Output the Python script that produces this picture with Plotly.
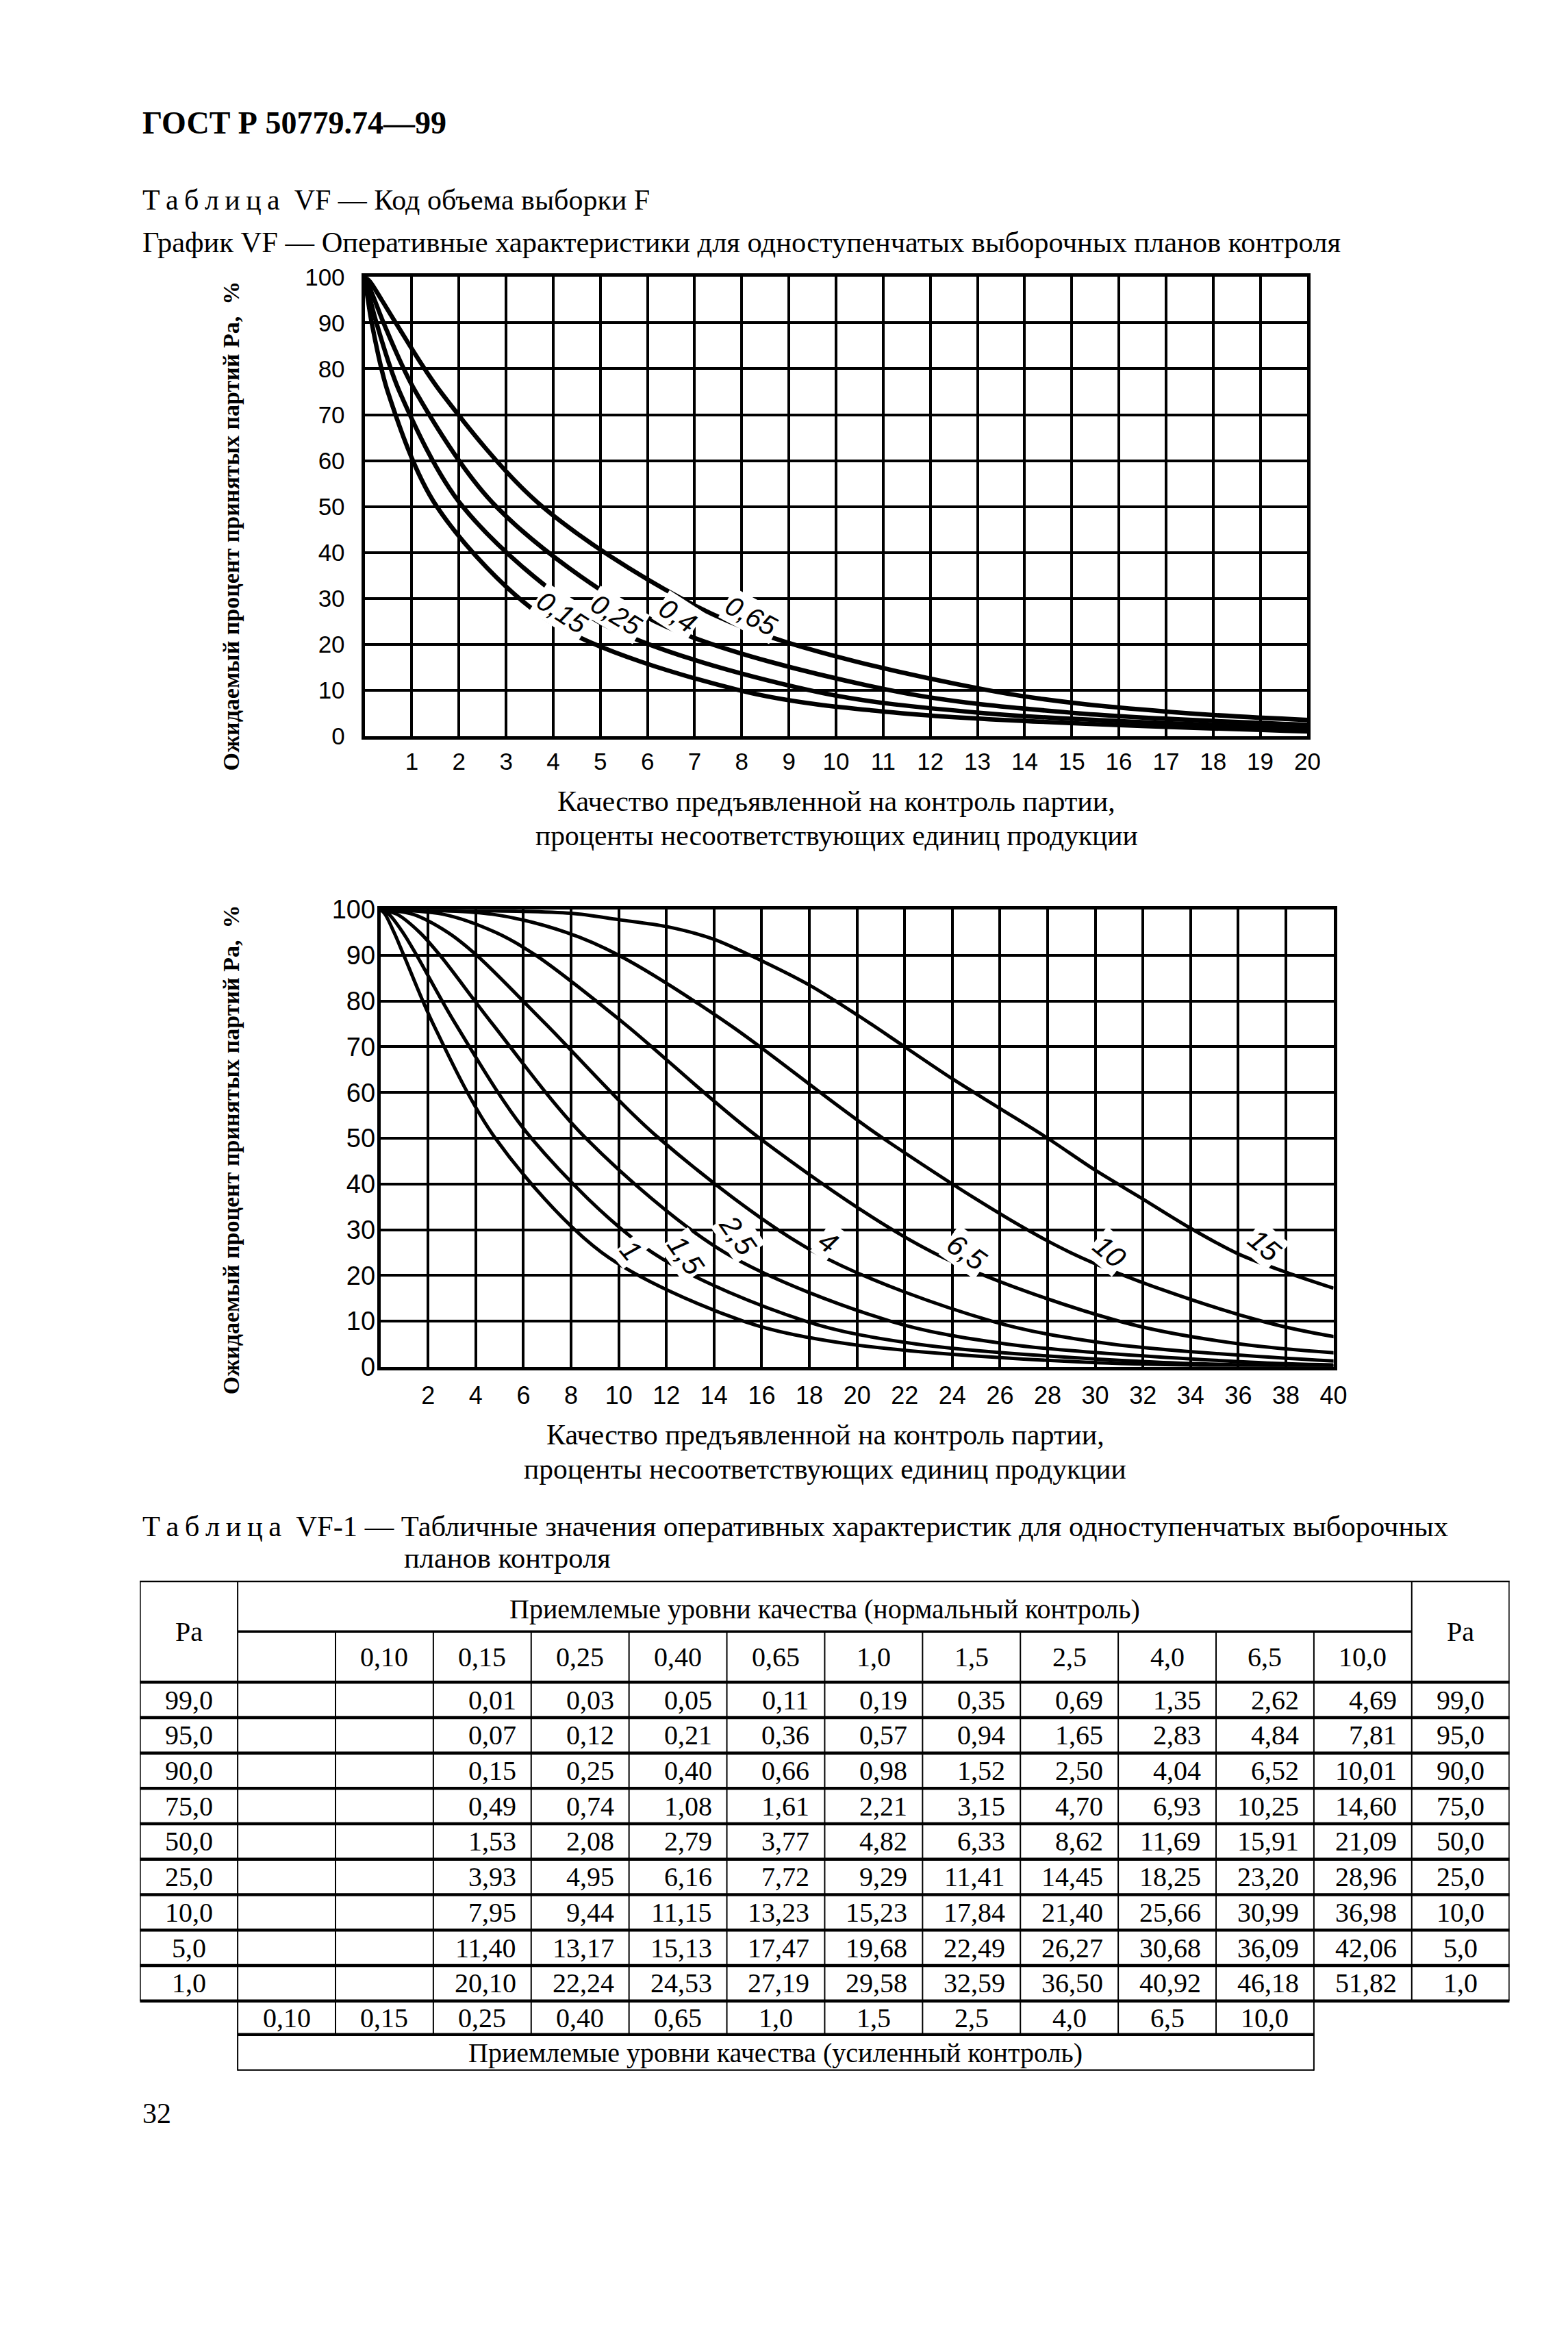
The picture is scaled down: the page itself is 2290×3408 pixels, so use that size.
import plotly.graph_objects as go

W, H = 2290, 3408

# ------------------------------------------------------------------ data
PA_LEVELS = [99.0, 95.0, 90.0, 75.0, 50.0, 25.0, 10.0, 5.0, 1.0]

AQL_NORMAL = ["", "0,10", "0,15", "0,25", "0,40", "0,65", "1,0", "1,5", "2,5", "4,0", "6,5", "10,0"]
AQL_TIGHTENED = ["0,10", "0,15", "0,25", "0,40", "0,65", "1,0", "1,5", "2,5", "4,0", "6,5", "10,0"]

# process quality (percent nonconforming) at each Pa level, per normal AQL column
P_015 = [0.01, 0.07, 0.15, 0.49, 1.53, 3.93, 7.95, 11.40, 20.10]
P_025 = [0.03, 0.12, 0.25, 0.74, 2.08, 4.95, 9.44, 13.17, 22.24]
P_040 = [0.05, 0.21, 0.40, 1.08, 2.79, 6.16, 11.15, 15.13, 24.53]
P_065 = [0.11, 0.36, 0.66, 1.61, 3.77, 7.72, 13.23, 17.47, 27.19]
P_10 = [0.19, 0.57, 0.98, 2.21, 4.82, 9.29, 15.23, 19.68, 29.58]
P_15 = [0.35, 0.94, 1.52, 3.15, 6.33, 11.41, 17.84, 22.49, 32.59]
P_25 = [0.69, 1.65, 2.50, 4.70, 8.62, 14.45, 21.40, 26.27, 36.50]
P_40 = [1.35, 2.83, 4.04, 6.93, 11.69, 18.25, 25.66, 30.68, 40.92]
P_65 = [2.62, 4.84, 6.52, 10.25, 15.91, 23.20, 30.99, 36.09, 46.18]
P_100 = [4.69, 7.81, 10.01, 14.60, 21.09, 28.96, 36.98, 42.06, 51.82]

TABLE_COLUMNS = [P_015, P_025, P_040, P_065, P_10, P_15, P_25, P_40, P_65, P_100]

# chart 1 curves (AQL 0,15 ... 0,65)
CH1_CURVES = [P_015, P_025, P_040, P_065]
CH1_LABELS = ["0,15", "0,25", "0,4", "0,65"]

# chart 2 curves (AQL 1 ... 10); tails near x = 40
CH2_CURVES = [P_10, P_15, P_25, P_40, P_65, P_100]
CH2_TAIL_X = [40.0, 40.0, 40.0, None, None, None]
CH2_TAIL_PA = [0.1, 0.2, 0.4, None, None, None]
CH2_LABELS = ["1", "1,5", "2,5", "4", "6,5", "10", "15"]

# AQL 15 curve (not in the table)
C15_X = [0, 4, 8, 10, 12, 14, 16, 18, 20, 22, 24, 26, 28, 30, 32, 34, 36, 38, 40]
C15_PA = [100, 99.8, 99.2, 97.8, 96.3, 93.5, 88.8, 83.5, 77, 70, 63, 56.5, 50, 43, 36.7, 30.3, 24.7, 20.7, 17.2]

X1_TICKS = [1, 2, 3, 4, 5, 6, 7, 8, 9, 10, 11, 12, 13, 14, 15, 16, 17, 18, 19, 20]
X2_TICKS = [2, 4, 6, 8, 10, 12, 14, 16, 18, 20, 22, 24, 26, 28, 30, 32, 34, 36, 38, 40]
Y_TICKS = [0, 10, 20, 30, 40, 50, 60, 70, 80, 90, 100]

# ------------------------------------------------------------------ style / layout constants
SERIF = "Liberation Serif, Times New Roman, serif"
SANS = "Liberation Sans, Arial, sans-serif"
BLACK = "black"

# page-position calibration (target px -> layout px)
SX, OX = 1.0131, -13.8
SY, OY = 1.0134, -30.4


def X(p):
    return p * SX + OX


def Y(p):
    return p * SY + OY


CH1_BOX = (536, 1907, 405, 1075)   # left, right, top, bottom (target px)
CH2_BOX = (559, 1945, 1328, 1995)
TB_BOX = (209, 2201, 2307, 3022)

CH1_LABEL_POS = [(4.19, 27.0, 33), (5.35, 26.4, 31), (6.65, 26.2, 33), (8.2, 26.2, 28)]
CH2_LABEL_POS = [(10.5, 25.5, 50), (12.8, 24.4, 55), (15.0, 28.8, 55), (18.8, 27.3, 35),
                 (24.6, 25.0, 35), (30.6, 25.2, 40), (37.1, 26.5, 40)]

HDR_H = 74.0
ROW_H = 465.0 / 9
BOT1_H = 49.0
BOT2_H = 53.0


def xd(a, b):
    return [X(a) / W, X(b) / W]


def yd(top, bottom):
    return [1 - Y(bottom) / H, 1 - Y(top) / H]


def fmt(v, nd=2):
    return f"{v:.{nd}f}".replace(".", ",")


fig = go.Figure()

# ------------------------------------------------------------------ chart 1
for pv in CH1_CURVES:
    fig.add_trace(go.Scatter(
        x=[0.0] + pv, y=[100.0] + PA_LEVELS, mode="lines",
        line=dict(color=BLACK, width=6.5, shape="spline", smoothing=0.9),
        xaxis="x", yaxis="y", hoverinfo="skip", showlegend=False))

# ------------------------------------------------------------------ chart 2
for pv, tx, ty in zip(CH2_CURVES, CH2_TAIL_X, CH2_TAIL_PA):
    xs = [0.0] + pv
    ys = [100.0] + PA_LEVELS
    if tx is not None:
        xs = xs + [tx]
        ys = ys + [ty]
    fig.add_trace(go.Scatter(
        x=xs, y=ys, mode="lines",
        line=dict(color=BLACK, width=5, shape="spline", smoothing=0.9),
        xaxis="x2", yaxis="y2", hoverinfo="skip", showlegend=False))
fig.add_trace(go.Scatter(
    x=C15_X, y=C15_PA, mode="lines",
    line=dict(color=BLACK, width=5, shape="spline", smoothing=0.9),
    xaxis="x2", yaxis="y2", hoverinfo="skip", showlegend=False))

# invisible anchor for the table axes
n_cols = 14
tab_h = 2 * HDR_H + 9 * ROW_H + BOT1_H + BOT2_H
fig.add_trace(go.Scatter(x=[0, n_cols], y=[0, tab_h], mode="markers",
                         marker=dict(opacity=0), xaxis="x3", yaxis="y3",
                         hoverinfo="skip", showlegend=False))

axis_common = dict(showgrid=True, gridcolor=BLACK, showline=True, linecolor=BLACK,
                   mirror=True, zeroline=False, ticks="", fixedrange=True)

fig.update_layout(
    width=W, height=H, margin=dict(l=0, r=0, t=0, b=0),
    paper_bgcolor="white", plot_bgcolor="white", showlegend=False,
    xaxis=dict(axis_common, domain=xd(CH1_BOX[0], CH1_BOX[1]), range=[0, 20], anchor="y",
               tickvals=X1_TICKS, ticktext=[str(t) for t in X1_TICKS], gridwidth=4, linewidth=5,
               tickfont=dict(family=SANS, size=35, color=BLACK), ticklabelstandoff=2),
    yaxis=dict(axis_common, domain=yd(CH1_BOX[2], CH1_BOX[3]), range=[0, 100], anchor="x",
               tickvals=Y_TICKS, ticktext=[str(t) for t in Y_TICKS], gridwidth=4, linewidth=5,
               tickfont=dict(family=SANS, size=35, color=BLACK), ticklabelstandoff=17),
    xaxis2=dict(axis_common, domain=xd(CH2_BOX[0], CH2_BOX[1]), range=[0, 40], anchor="y2",
                tickvals=X2_TICKS, ticktext=[str(t) for t in X2_TICKS], gridwidth=3.5, linewidth=5,
                tickfont=dict(family=SANS, size=36, color=BLACK), ticklabelstandoff=6),
    yaxis2=dict(axis_common, domain=yd(CH2_BOX[2], CH2_BOX[3]), range=[0, 100], anchor="x2",
                tickvals=Y_TICKS, ticktext=[str(t) for t in Y_TICKS], gridwidth=3.5, linewidth=5,
                tickfont=dict(family=SANS, size=38, color=BLACK), ticklabelstandoff=-5),
    xaxis3=dict(domain=xd(TB_BOX[0], TB_BOX[1]), range=[0, n_cols], visible=False,
                fixedrange=True, anchor="y3"),
    yaxis3=dict(domain=yd(TB_BOX[2], TB_BOX[3]), range=[tab_h, 0], visible=False,
                fixedrange=True, anchor="x3"),
)

ann = []


def page_text(xpx, ypx, text, size, anchor="left", family=SERIF, angle=0):
    ann.append(dict(xref="paper", yref="paper", x=X(xpx) / W, y=1 - Y(ypx) / H, text=text,
                    showarrow=False, xanchor=anchor, yanchor="middle", textangle=angle,
                    font=dict(family=family, size=size, color=BLACK)))


SP = "\u2009"
TABLICA = SP.join("Таблица")

page_text(211, 180, "<b>ГОСТ Р 50779.74—99</b>", 46)
page_text(211, 293, TABLICA + "\u2002VF — Код объема выборки F", 42)
page_text(211, 354, "График VF — Оперативные характеристики для одноступенчатых выборочных планов контроля", 42.5)

YT = "<b>Ожидаемый процент принятых партий Pa,  %</b>"
page_text(342, 768, YT, 34, anchor="center", angle=-90)
page_text(342, 1678, YT, 34, anchor="center", angle=-90)

XT1 = "Качество предъявленной на контроль партии,"
XT2 = "проценты несоответствующих единиц продукции"
page_text(1222, 1170, XT1, 42, anchor="center")
page_text(1222, 1220, XT2, 41.5, anchor="center")
page_text(1206, 2094, XT1, 42, anchor="center")
page_text(1206, 2144, XT2, 41.5, anchor="center")

page_text(211, 2227, TABLICA + "\u2002VF-1 — Табличные значения оперативных характеристик для одноступенчатых выборочных", 42.5)
page_text(591, 2273, "планов контроля", 42.5)
page_text(211, 3084, "32", 42)

# curve labels
for (lx, ly, ang), txt in zip(CH1_LABEL_POS, CH1_LABELS):
    ann.append(dict(xref="x", yref="y", x=lx, y=ly, text=txt, showarrow=False, textangle=ang,
                    bgcolor="white", borderpad=2,
                    font=dict(family=SANS, size=40, color=BLACK, style="italic")))
for (lx, ly, ang), txt in zip(CH2_LABEL_POS, CH2_LABELS):
    ann.append(dict(xref="x2", yref="y2", x=lx, y=ly, text=txt, showarrow=False, textangle=ang,
                    bgcolor="white", borderpad=2,
                    font=dict(family=SANS, size=42, color=BLACK, style="italic")))

# ------------------------------------------------------------------ table
TF = dict(family=SERIF, size=40, color=BLACK)


def cell(x, y, text, anchor="center", shift=0):
    ann.append(dict(xref="x3", yref="y3", x=x, y=y, text=text, showarrow=False,
                    xanchor=anchor, yanchor="middle", xshift=shift, font=TF))


data_top = 2 * HDR_H
data_bot = data_top + 9 * ROW_H
bot1 = data_bot + BOT1_H

cell(0.5, HDR_H, "Pa")
cell(13.5, HDR_H, "Pa")
cell(7, HDR_H / 2 + 4, "Приемлемые уровни качества (нормальный контроль)")
for i, lab in enumerate(AQL_NORMAL):
    cell(1.5 + i, HDR_H * 1.5, lab)

for r, pa in enumerate(PA_LEVELS):
    yc = data_top + ROW_H * (r + 0.5)
    cell(0.5, yc, fmt(pa, 1))
    cell(13.5, yc, fmt(pa, 1))
    for c, col in enumerate(TABLE_COLUMNS):
        cell(4 + c, yc, fmt(col[r]), anchor="right", shift=-20)

for i, lab in enumerate(AQL_TIGHTENED):
    cell(1.5 + i, data_bot + BOT1_H / 2, lab)
cell(6.5, bot1 + BOT2_H / 2, "Приемлемые уровни качества (усиленный контроль)")

shapes = []


def tline(x0, y0, x1, y1, w):
    shapes.append(dict(type="line", xref="x3", yref="y3", x0=x0, y0=y0, x1=x1, y1=y1,
                       line=dict(color=BLACK, width=w)))


HW = 4.5
VW = 2
tline(0, 0, 14, 0, HW)
tline(1, HDR_H, 13, HDR_H, 3.5)
tline(0, data_top, 14, data_top, HW)
for r in range(1, 10):
    tline(0, data_top + ROW_H * r, 14, data_top + ROW_H * r, HW)
tline(1, bot1, 12, bot1, HW)
tline(1, tab_h, 12, tab_h, HW)

tline(0, 0, 0, data_bot, 3)
tline(14, 0, 14, data_bot, 3)
tline(1, 0, 1, tab_h, VW)
tline(13, 0, 13, data_bot, VW)
for c in range(2, 12):
    tline(c, HDR_H, c, bot1, VW)
tline(12, HDR_H, 12, tab_h, VW)

fig.update_layout(annotations=ann, shapes=shapes)
fig.write_html("out.html")
